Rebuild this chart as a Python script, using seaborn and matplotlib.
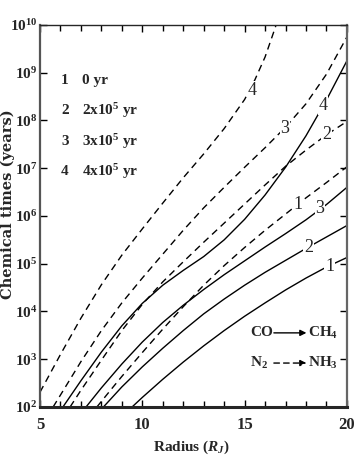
import matplotlib
matplotlib.use('Agg')
import matplotlib.pyplot as plt
from matplotlib.ticker import FixedLocator, MultipleLocator, NullLocator
import numpy as np
import pandas as pd
import seaborn as sns

# curves: radius (R_J) and log10 of the chemical time (yr)
# CO -> CH4 (solid)
co1_r = [9.5, 10.0, 11.0, 12.0, 13.0, 14.0, 15.0, 16.0, 17.0, 18.0, 19.0, 20.0]
co1_t = [2.0, 2.2, 2.58, 2.94, 3.28, 3.6, 3.9, 4.18, 4.45, 4.7, 4.93, 5.13]
co2_r = [8.1, 9.0, 10.0, 11.0, 12.0, 13.0, 14.0, 15.0, 16.0, 17.0, 18.0, 19.0, 20.0]
co2_t = [2.0, 2.42, 2.84, 3.23, 3.6, 3.95, 4.26, 4.55, 4.82, 5.07, 5.32, 5.56, 5.8]
co3_r = [7.25, 8.0, 9.0, 10.0, 11.0, 12.0, 13.0, 14.0, 15.0, 16.0, 17.0, 18.0, 19.0, 20.0]
co3_t = [2.0, 2.4, 2.9, 3.36, 3.77, 4.13, 4.46, 4.77, 5.06, 5.35, 5.63, 5.92, 6.24, 6.6]
co4_r = [6.12, 7.0, 8.0, 9.0, 10.0, 11.0, 12.0, 13.0, 14.0, 15.0, 16.0, 17.0, 18.0, 19.0, 20.0]
co4_t = [2.0, 2.55, 3.15, 3.7, 4.17, 4.55, 4.86, 5.15, 5.5, 5.93, 6.44, 7.02, 7.68, 8.43, 9.25]

# N2 -> NH3 (dashed)
n1_r = [7.78, 8.5, 9.0, 10.0, 11.0, 12.0, 13.0, 14.0, 15.0, 16.0, 17.0, 18.0, 19.0, 20.0]
n1_t = [2.0, 2.38, 2.64, 3.14, 3.63, 4.1, 4.55, 4.96, 5.34, 5.7, 6.04, 6.38, 6.7, 7.03]
n2_r = [6.47, 7.0, 8.0, 9.0, 10.0, 11.0, 12.0, 13.0, 14.0, 15.0, 16.0, 17.0, 18.0, 19.0, 20.0]
n2_t = [2.0, 2.35, 2.98, 3.6, 4.15, 4.62, 5.04, 5.45, 5.85, 6.25, 6.65, 7.04, 7.38, 7.7, 7.98]
n3_r = [5.64, 6.0, 7.0, 8.0, 9.0, 10.0, 11.0, 12.0, 13.0, 14.0, 15.0, 16.0, 17.0, 18.0, 19.0, 20.0]
n3_t = [2.0, 2.25, 2.95, 3.6, 4.18, 4.7, 5.2, 5.7, 6.17, 6.6, 7.02, 7.43, 7.86, 8.35, 8.97, 9.75]
n4_r = [5.0, 6.0, 7.0, 8.0, 9.0, 10.0, 11.0, 12.0, 13.0, 14.0, 15.0, 15.5, 16.0, 16.5, 16.6]
n4_t = [2.31, 3.1, 3.86, 4.56, 5.18, 5.73, 6.27, 6.8, 7.3, 7.83, 8.44, 8.85, 9.33, 9.95, 10.1]

curve_names = ['1', '2', '3', '4']
ages = ['0 yr', r'2x10$^5$ yr', r'3x10$^5$ yr', r'4x10$^5$ yr']

# where the curve numbers sit (radius, log10 time)
co_label_r = [19.17, 18.14, 18.68, 18.83]
co_label_t = [4.95, 5.33, 6.15, 8.32]
n_label_r = [17.6, 19.02, 16.97, 15.36]
n_label_t = [6.24, 7.70, 7.84, 8.62]

rows = []
for gas, rs, ts in [('CO', [co1_r, co2_r, co3_r, co4_r], [co1_t, co2_t, co3_t, co4_t]),
                    ('N2', [n1_r, n2_r, n3_r, n4_r], [n1_t, n2_t, n3_t, n4_t])]:
    for name, r, t in zip(curve_names, rs, ts):
        for ri, ti in zip(r, t):
            rows.append({'radius': ri, 'time': 10 ** ti, 'gas': gas, 'curve': gas + name})
df = pd.DataFrame(rows)

sns.set_style('ticks')
plt.rcParams['font.family'] = ['Liberation Serif', 'DejaVu Serif']
plt.rcParams['mathtext.fontset'] = 'custom'
plt.rcParams['mathtext.rm'] = 'Liberation Serif:bold'
plt.rcParams['mathtext.it'] = 'Liberation Serif:italic:bold'
plt.rcParams['mathtext.bf'] = 'Liberation Serif:bold'

fig = plt.figure(figsize=(3.54, 4.63), dpi=100)
ax = fig.add_axes([0.113, 0.121, 0.867, 0.825])

sns.lineplot(data=df, x='radius', y='time', units='curve', style='gas',
             estimator=None, sort=False, color='black', linewidth=1.0,
             dashes={'CO': '', 'N2': (5, 3.5)}, legend=False, ax=ax)

ax.set_yscale('log')
ax.set_xlim(5, 20)
ax.set_ylim(1e2, 1e10)
ax.yaxis.set_major_locator(FixedLocator([10.0 ** k for k in range(2, 11)]))
ax.yaxis.set_minor_locator(NullLocator())
ax.xaxis.set_major_locator(FixedLocator([5, 10, 15, 20]))
ax.xaxis.set_minor_locator(MultipleLocator(1))
ax.tick_params(which='both', direction='in', top=True, right=True, color='black')
ax.tick_params(which='major', length=5, width=1)
ax.tick_params(which='minor', length=4, width=1)
ax.tick_params(axis='y', labelsize=11, pad=2)
ax.tick_params(axis='x', labelsize=12, pad=7)
for lab in ax.get_xticklabels() + ax.get_yticklabels():
    lab.set_fontweight('bold')

ax.spines['bottom'].set_linewidth(2.2)
ax.spines['top'].set_linewidth(1.0)
ax.spines['left'].set_linewidth(1.6)
ax.spines['left'].set_color('#555555')
ax.spines['right'].set_linewidth(1.6)
ax.spines['right'].set_color('#666666')

ax.set_ylabel('Chemical times (years)', family='DejaVu Serif', fontweight='bold', fontsize=10.5)
ax.yaxis.set_label_coords(-0.08, 0.53)
ax.set_xlabel(r'Radius ($R_J$)', fontweight='bold', fontsize=11)
ax.xaxis.set_label_coords(0.495, -0.083)

box = dict(facecolor='white', edgecolor='none', pad=0.6)
for name, r, t in zip(curve_names, co_label_r, co_label_t):
    ax.text(r, 10 ** t, name, ha='center', va='center', fontsize=13, bbox=box)
for name, r, t in zip(curve_names, n_label_r, n_label_t):
    ax.text(r, 10 ** t, name, ha='center', va='center', fontsize=13, bbox=box)

# age key, top left
for i, (name, age) in enumerate(zip(curve_names, ages)):
    yy = 0.856 - i * 0.08
    ax.text(0.081, yy, name, transform=ax.transAxes, ha='center', va='center',
            fontsize=11, fontweight='bold')
    ax.text(0.137, yy, age, transform=ax.transAxes, ha='left', va='center',
            fontsize=11, fontweight='bold')

# reaction key, bottom right
ax.text(0.685, 0.194, 'CO', transform=ax.transAxes, ha='left', va='center',
        fontsize=11, fontweight='bold')
ax.text(0.872, 0.194, r'CH$_4$', transform=ax.transAxes, ha='left', va='center',
        fontsize=11, fontweight='bold')
ax.annotate('', xy=(0.868, 0.194), xytext=(0.762, 0.194), xycoords='axes fraction',
            arrowprops=dict(arrowstyle='-|>', color='black', lw=1.0, mutation_scale=9,
                            shrinkA=0, shrinkB=0))
ax.text(0.685, 0.115, r'N$_2$', transform=ax.transAxes, ha='left', va='center',
        fontsize=11, fontweight='bold')
ax.text(0.872, 0.115, r'NH$_3$', transform=ax.transAxes, ha='left', va='center',
        fontsize=11, fontweight='bold')
ax.annotate('', xy=(0.868, 0.115), xytext=(0.762, 0.115), xycoords='axes fraction',
            arrowprops=dict(arrowstyle='-|>', color='black', lw=1.0, mutation_scale=9,
                            linestyle=(0, (4, 3)), shrinkA=0, shrinkB=0))

fig.savefig('out.png', dpi=100)
